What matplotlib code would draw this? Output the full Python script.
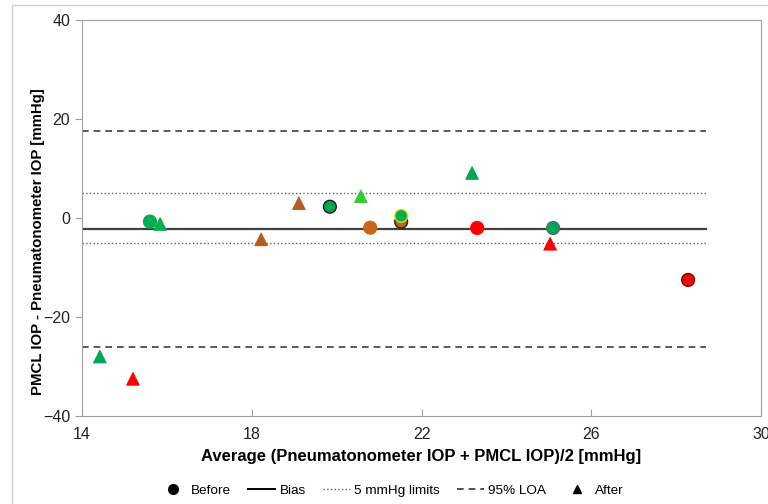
import matplotlib
matplotlib.use("Agg")
import matplotlib.pyplot as plt
from matplotlib.lines import Line2D
from matplotlib.patches import Rectangle

plt.rcParams["font.family"] = ["Liberation Sans", "DejaVu Sans"]

# Before measurements (circles)
before_avg = [15.60, 19.84, 20.79, 21.52, 21.52, 23.31, 25.10, 28.28]
before_diff = [-0.7, 2.3, -1.95, -0.75, 0.45, -2.0, -2.0, -12.5]

# After measurements (triangles)
after_avg = [14.42, 15.20, 15.84, 18.22, 19.11, 20.57, 23.19, 25.03]
after_diff = [-28.0, -32.5, -1.2, -4.3, 3.0, 4.4, 9.1, -5.2]

bias = -2.2
loa_upper = 17.5
loa_lower = -26.0
limit = 5
line_x = [14, 28.7]

# per-point colours (face, edge)
before_face = ["#00B050", "#00A651", "#C8651B", "#C0601A", "#00B050", "#FF0000", "#00A651", "#FF0000"]
before_edge = ["#00B050", "#1A1A1A", "#C8651B", "#202020", "#D8E010", "#FF0000", "#4A6A8A", "#7A0000"]
after_face = ["#00A651", "#FF0000", "#00B050", "#B85C1E", "#B85C1E", "#33CC33", "#00A651", "#FF0000"]

fig = plt.figure(figsize=(7.68, 5.04), dpi=100)
ax = fig.add_axes([0.1068, 0.1746, 0.8842, 0.7854])

ax.plot(line_x, [bias, bias], "-", color="#404040", lw=1.6, zorder=2)
ax.plot(line_x, [limit, limit], ":", color="#606060", lw=1.0, zorder=2)
ax.plot(line_x, [-limit, -limit], ":", color="#606060", lw=1.0, zorder=2)
ax.plot(line_x, [loa_upper, loa_upper], "--", color="#404040", lw=1.2, dashes=(4, 3), zorder=2)
ax.plot(line_x, [loa_lower, loa_lower], "--", color="#404040", lw=1.2, dashes=(4, 3), zorder=2)

ax.scatter(after_avg, after_diff, marker="^", s=80, c=after_face, edgecolors=after_face,
           linewidths=0.8, zorder=3)
ax.scatter(before_avg, before_diff, marker="o", s=85, c=before_face, edgecolors=before_edge,
           linewidths=1.0, zorder=4)

ax.set_xlim(14, 30)
ax.set_ylim(-40, 40)
ax.set_xticks([14, 18, 22, 26, 30])
ax.set_yticks([-40, -20, 0, 20, 40])
for s in ax.spines.values():
    s.set_color("#A0A0A0")
ax.tick_params(axis="y", direction="out", length=5, color="#A0A0A0", labelsize=11.5, labelcolor="#222222")
ax.tick_params(axis="x", direction="in", length=5, color="#A0A0A0", labelsize=11.5, labelcolor="#222222", pad=8)

ax.set_xlabel("Average (Pneumatonometer IOP + PMCL IOP)/2 [mmHg]", fontsize=12, fontweight="bold", labelpad=5)
ax.set_ylabel("PMCL IOP - Pneumatonometer IOP [mmHg]", fontsize=10.8, fontweight="bold", labelpad=10)
ax.yaxis.set_label_coords(-0.055, 0.44)

handles = [
    Line2D([], [], marker="o", color="black", ls="none", markersize=7),
    Line2D([], [], color="black", lw=1.4),
    Line2D([], [], color="#606060", lw=1.0, ls=":"),
    Line2D([], [], color="#303030", lw=1.2, ls="--", dashes=(4, 3)),
    Line2D([], [], marker="^", color="black", ls="none", markersize=6),
]
labels = ["Before", "Bias", "5 mmHg limits", "95% LOA", "After"]
fig.legend(handles, labels, loc="center", bbox_to_anchor=(0.51, 0.027), ncol=5, frameon=False,
           fontsize=9.7, handlelength=2.0, handletextpad=0.3, columnspacing=1.3)

# light outer frame
fig.patches.append(Rectangle((12 / 768, -0.02), 1.1, (504 - 5) / 504 + 0.02, transform=fig.transFigure,
                             fill=False, edgecolor="#D0D0D0", lw=1.0))

fig.savefig("out.png", dpi=100)
